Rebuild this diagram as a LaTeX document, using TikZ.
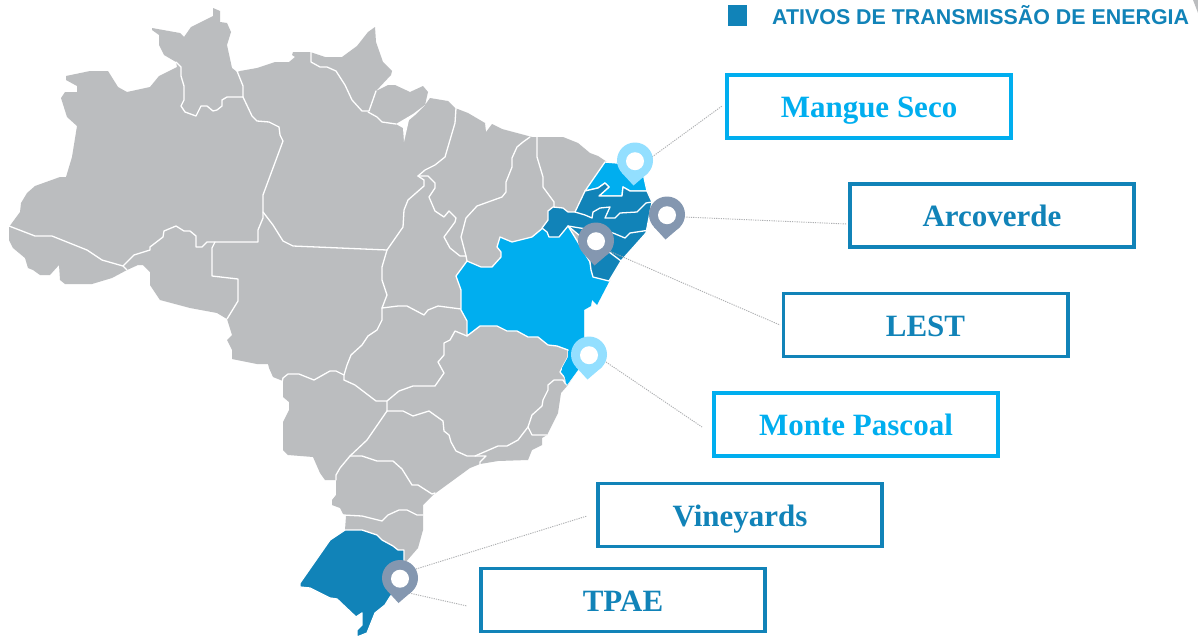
\documentclass[tikz,border=0pt]{standalone}
\usepackage{fontspec}
\setmainfont{Liberation Serif}
\newfontfamily\legendfont{Liberation Sans}
\definecolor{stategray}{HTML}{BBBDBF}
\definecolor{darkblue}{HTML}{1183B8}
\definecolor{lightblue}{HTML}{00AEEF}
\definecolor{pinlight}{HTML}{93DFFF}
\definecolor{pingray}{HTML}{8497B0}
\definecolor{leadergray}{HTML}{ADAFB1}
\tikzset{
  border/.style={draw=white,line width=1.3pt,line join=round,line cap=round},
  activestate/.style={border},
  labelbox/.style={draw=#1,text=#1,line width=3.6pt,fill=white,inner sep=0pt,
    minimum width=284.4pt,minimum height=63pt,text height=22pt,text depth=0pt,
    font=\fontsize{31}{33}\selectfont\bfseries},
  leader/.style={draw=leadergray,line width=0.9pt,dash pattern=on 1.2pt off 1.1pt},
}
\newcommand{\mappin}[4]{%
  \coordinate (#1) at (#2,#3);
  \fill[#4] (#1) circle[radius=18pt];
  \fill[#4] ([shift={(-13,12.5)}]#1) -- ([shift={(-1.5,25)}]#1) -- ([shift={(13,12.5)}]#1) -- cycle;
  \fill[white] ([shift={(0,0.7)}]#1) circle[radius=9pt];
}
\begin{document}
\begin{tikzpicture}[x=1pt,y=-1pt]
\fill[white] (0,0) rectangle (1198,637);
\useasboundingbox (0,0) rectangle (1198,637);
% country silhouette
\fill[stategray] (152,28)--(180,33)--(184,37)--(191,27)--(213,16)--(213,8)--(220,11)--(220,22)--(227,23)--(231,32)--(227,45)--(232,68)--(237,72)--(240,71)
 --(257,68)--(275,62)--(289,62)--(295,57)--(292,55)--(293,52)--(310,52)--(325,57)--(342,57)--(357,46)--(368,32)--(375,27)--(376,42)--(383,62)--(392,71)--(391,75)--(376,91)
 --(388,85)--(395,85)--(410,92)--(423,86)--(428,92)--(425,105)--(430,98)--(448,101)--(455,108)--(468,113)--(485,123)--(486,132)--(492,124)--(502,129)--(517,133)--(532,137)--(537,137)--(563,137)--(578,143)--(590,153)--(598,156)--(607,162)
 --(617,163)--(643,173)--(647,190)--(652,202)--(646,233)--(620,262)--(610,280)--(597,305)--(592,300)--(591,306)--(584,310)--(584,347)--(578,370)--(568,385)
 --(561,393)--(558,413)--(547,435)--(542,438)--(542,445)--(532,450)--(528,460)--(498,461)--(480,464)--(470,468)--(433,495)
 --(423,505)--(423,530)--(418,548)--(405,563)--(400,585)--(390,597)--(385,605)--(375,613)--(367,633)--(357,637)--(357,630)--(362,625)--(362,613)--(356,617)--(337,599)--(330,598)--(310,588)--(300,587)--(300,583)--(330,540)--(345,530)
 --(346,516)--(343,514)--(340,508)--(332,505)--(332,500)--(336,495)--(336,480)--(325,480)--(320,473)--(313,457)--(288,455)--(283,450)--(283,422)--(289,410)--(289,402)--(283,397)--(283,381)
 --(273,377)--(269,368)--(268,364)--(257,364)--(232,359)--(232,350)--(227,340)--(232,335)--(227,319)--(217,313)--(190,308)--(160,300)--(150,285)--(150,272)--(143,265)--(138,265)--(127,270)
 --(112,278)--(92,284)--(65,284)--(60,280)--(59,265)--(50,275)--(40,275)--(33,270)--(28,268)--(25,258)--(13,248)--(9,240)--(9,227)
 --(20,212)--(21,203)--(27,193)--(35,186)--(60,177)--(66,177)--(72,157)--(77,126)--(67,117)--(61,98)--(65,92)--(77,92)--(77,86)--(66,80)--(66,76)--(90,71)--(108,71)--(118,87)--(127,92)--(150,87)--(159,76)--(177,67)
 --(176,62)--(164,55)--(159,45)--(159,35)--(152,30)--cycle;
% white channel south of Marajo
\fill[white] (396,124)--(403,128)--(404,142)--(409,120)--(415,115)--(425,105)--(413,114)--cycle;
% state borders
\draw[border] (9,226)--(35,236)--(52,236)--(87,250)--(102,260)--(123,266)--(127,270);
\draw[border] (123,266)--(134,255)--(150,250)--(150,247)--(163,237)--(164,231)--(176,226)--(184,231)--(190,231)--(196,236)--(196,247)--(202,247)--(207,242)--(215,242)--(258,242)--(258,230)--(263,218)--(263,195)--(283,141)--(280,135)--(279,127)--(269,122)--(257,121)--(252,116)--(243,97);
\draw[border] (215,242)--(212,248)--(212,276)--(238,279)--(238,301)--(227,319);
\draw[border] (176,62)--(181,67)--(181,76)--(184,86)--(184,100)--(181,106)--(185,112)--(196,116)--(201,106)--(207,106)--(213,111)--(217,110)--(222,106)--(222,100)--(227,97)--(243,97);
\draw[border] (237,71)--(243,86)--(243,97);
\draw[border] (263,212)--(273,225)--(283,241)--(293,246)--(387,250)--(403,227)--(404,210)--(408,200)--(424,186)--(424,180)--(418,176)--(425,170)--(435,165)--(445,157)--(455,123)--(456,108);
\draw[border] (311,52)--(311,62)--(320,67)--(327,67)--(336,71)--(345,85)--(352,100)--(362,111)--(369,111)--(376,91);
\draw[border] (368,112)--(377,117)--(382,122)--(396,124);
\draw[border] (418,176)--(428,176)--(435,183)--(435,188)--(429,197)--(435,211)--(444,217)--(449,211)--(456,218)--(455,222)--(444,237)--(450,248)--(460,256)--(466,256);
\draw[border] (530,137)--(523,142)--(517,147)--(512,158)--(512,167)--(506,182)--(506,192)--(502,197)--(477,206)--(466,218)--(461,237)--(466,256)--(467,261);
\draw[border] (537,137)--(537,157)--(543,177)--(543,187)--(554,202)--(554,207);
\draw[border] (387,250)--(382,267)--(382,280)--(387,295)--(382,308)--(398,306)--(407,306)--(424,315)--(428,310)--(438,306)--(461,309);
\draw[border] (382,308)--(382,320)--(377,330)--(368,336)--(362,345)--(351,355)--(347,365)--(344,375)--(344,380);
\draw[border] (282,383)--(283,378)--(288,374)--(299,374)--(314,380)--(330,371)--(336,371)--(344,375);
\draw[border] (344,380)--(355,385)--(376,401)--(387,401)--(387,411);
\draw[border] (387,401)--(399,391)--(413,386)--(435,386)--(444,373)--(438,362)--(444,355)--(444,343)--(450,340)--(455,331)--(467,336);
\draw[border] (387,411)--(403,411)--(413,416)--(429,411)--(443,421)--(444,431)--(449,435)--(451,442)--(456,451)--(467,456)--(475,456)--(498,446)--(507,446)--(518,440)--(528,427)--(532,415)--(542,406)--(543,400)--(548,390)--(548,385)--(554,380)--(563,380)--(565,383);
\draw[border] (475,456)--(486,456)--(480,462)--(480,465);
\draw[border] (528,427)--(532,435)--(547,435);
\draw[border] (350,456)--(362,456)--(377,461)--(393,461)--(402,469)--(412,485)--(418,485)--(432,494)--(435,493);
\draw[border] (387,411)--(367,440)--(350,456)--(340,468)--(336,475)--(336,480);
\draw[border] (343,515)--(362,516)--(382,521)--(388,515)--(399,510)--(407,510)--(417,515)--(423,515);
% active states
\path[fill=lightblue,activestate] (467,261)--(456,276)--(461,290)--(461,310)--(467,321)--(467,336)--(480,326)--(497,326)--(507,331)--(517,331)--(528,337)--(538,337)--(548,345)--(557,346)--(568,350)--(568,357)--(562,368)--(560,372)--(565,378)--(565,383)--(567,385)--(578,370)--(584,347)--(584,310)--(591,306)--(592,300)--(597,305)--(610,280)--(593,276)--(590,262)--(568,226)--(544,227)--(532,237)--(512,242)--(500,237)--(497,247)--(501,252)--(501,257)--(492,267)--(481,267)--cycle;
\fill[lightblue] (584,347)--(584,310)--(591,306)--(592,300)--(597,305)--(610,280)--(570,290)--(560,345)--cycle;
\fill[lightblue] (568,351)--(584,347)--(578,370)--(567,385)--(565,378)--(562,368)--(568,357)--cycle;
\path[fill=lightblue,activestate] (605,162)--(617,163)--(643,173)--(647,191)--(630,191)--(623,187)--(622,196)--(599,196)--(609,187)--(605,183)--(598,188)--(585,191)--cycle;
\path[fill=darkblue,activestate] (585,191)--(598,188)--(605,183)--(609,187)--(599,196)--(622,196)--(623,187)--(630,191)--(647,191)--(652,202)--(646,233)--(621,261)--(609,281)--(593,277)--(591,270)--(590,262)--(585,240)--(568,226)--(559,237)--(549,237)--(547,232)--(542,228)--(548,220)--(548,211)--(553,207)--(563,208)--(568,212)--(575,212)--cycle;
\draw[border] (575,212)--(585,215)--(592,218)--(593,212)--(600,208)--(610,207)--(605,218)--(615,218)--(620,213)--(637,212)--(646,203)--(652,202);
\draw[border] (568,226)--(580,228)--(613,233)--(625,238)--(630,233)--(650,230);
\draw[border] (609,252)--(621,261);
\path[fill=darkblue,activestate] (345,530)--(362,530)--(377,535)--(382,540)--(393,546)--(398,550)--(404,550)--(404,562)--(400,585)--(390,597)--(385,605)--(375,613)--(367,633)--(357,637)--(357,630)--(362,625)--(362,613)--(356,617)--(337,599)--(330,598)--(310,588)--(300,587)--(300,583)--(330,540)--cycle;
% corner mark
\fill[stategray] (1193,0)--(1198,13)--(1198,0)--cycle;
% legend
\node[fill=darkblue,minimum width=19pt,minimum height=21pt,inner sep=0pt] (legendmark) at (737.5,15.5) {};
\node[anchor=base west,inner sep=0pt,text=darkblue,font=\legendfont\fontsize{21.4}{24}\selectfont\bfseries] (legendtext) at (772,24) {ATIVOS DE TRANSMISSÃO DE ENERGIA};
% label boxes
\node[labelbox=lightblue] (mangue) at (869,106.5) {Mangue Seco};
\node[labelbox=darkblue] (arcoverde) at (992,215.5) {Arcoverde};
\node[labelbox=darkblue] (lest) at (925.5,325) {LEST};
\node[labelbox=lightblue] (pascoal) at (856,424.5) {Monte Pascoal};
\node[labelbox=darkblue] (vineyards) at (740,515) {Vineyards};
\node[labelbox=darkblue] (tpae) at (623,600) {TPAE};
% free ends of the leaders
\coordinate (startmangue) at (652,157); \coordinate (endmangue) at (722,106);
\coordinate (startarco) at (684,217); \coordinate (endarco) at (847,224);
\coordinate (startlest) at (609,251); \coordinate (endlest) at (780,325);
\coordinate (startpascoal) at (606,362); \coordinate (endpascoal) at (702,427);
\coordinate (startvine) at (416,569); \coordinate (endvine) at (587,516);
\coordinate (starttpae) at (409,593); \coordinate (endtpae) at (467,606);
\draw[leader] (startmangue) -- (endmangue);
\draw[leader] (startarco) -- (endarco);
\draw[leader] (startlest) -- (endlest);
\draw[leader] (startpascoal) -- (endpascoal);
\draw[leader] (startvine) -- (endvine);
\draw[leader] (starttpae) -- (endtpae);
% pins
\mappin{pinmangue}{635}{160.5}{pinlight}
\mappin{pinarco}{667}{214.5}{pingray}
\mappin{pinlest}{596}{240.5}{pingray}
\mappin{pinpascoal}{589}{354.5}{pinlight}
\mappin{pintpae}{400}{578}{pingray}
\end{tikzpicture}
\end{document}
